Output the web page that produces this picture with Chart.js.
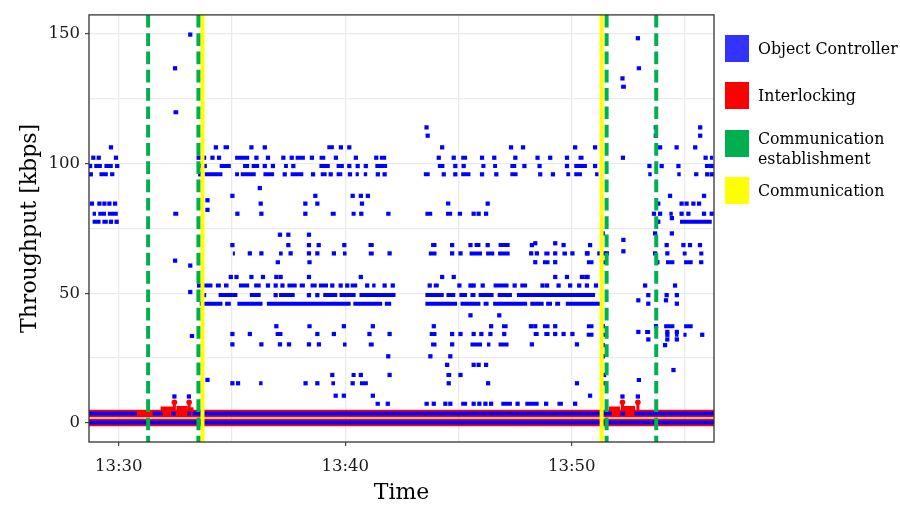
<!DOCTYPE html>
<html>
<head>
<meta charset="utf-8">
<script src="https://cdn.jsdelivr.net/npm/chart.js@4/dist/chart.umd.min.js"></script>
<style>
  html, body { margin: 0; padding: 0; background: #fff; }
  #wrap { position: relative; width: 900px; height: 506px; }
  #legend { position: absolute; left: 0; top: 0; font-family: "DejaVu Serif", serif; font-size: 15.8px; color: #000; }
  .key { position: absolute; left: 725px; width: 24px; height: 27px; }
  .lab { position: absolute; left: 758px; line-height: 20px; white-space: pre; }
</style>
</head>
<body>
<div id="wrap">
  <canvas id="c" width="900" height="506"></canvas>
  <div id="legend"></div>
</div>
<script>
// Time is given in minutes after 13:00, throughput in kbps.
const seriesNames = ['Object Controller', 'Interlocking', 'Communication\nestablishment', 'Communication'];
const seriesColors = ['#3333ff', '#ff0000', '#00b050', '#ffff00'];

const xTicks = [30, 35, 40, 45, 50, 55];
const yTicks = [0, 25, 50, 75, 100, 125, 150];
const xRange = [28.69, 56.28];
const yRange = [-7.36, 157.4];

// Phase markers
const estTimes = [31.30, 33.52, 51.54, 53.73];   // communication establishment
const commTimes = [33.70, 51.32];                // communication

// Object Controller: continuous runs at one level  [kbps, [[from, to], ...]]
const ocRunRows = [
  [0.2,   [[28.69, 56.28]]],
  [3.6,   [[28.69, 30.81], [31.50, 31.94], [32.31, 32.52], [33.04, 33.20], [33.26, 51.77], [52.14, 52.36], [52.77, 56.28]]],
  [7.4,   [[41.34, 41.53], [43.50, 43.69], [45.12, 45.38], [46.89, 47.36], [47.95, 48.54], [49.37, 49.61]]],
  [15.3,  [[36.20, 36.35], [39.39, 39.55], [40.65, 41.00]]],
  [16.6,  [[52.87, 53.06]]],
  [18.5,  [[40.28, 40.46], [44.47, 44.68]]],
  [30.3,  [[39.90, 40.06], [41.04, 41.26], [43.79, 44.03], [45.53, 46.04], [46.26, 46.41], [46.77, 47.21]]],
  [33.5,  [[33.14, 33.33]]],
  [34.0,  [[50.66, 50.96], [51.37, 51.55], [54.56, 54.71], [54.93, 55.07]]],
  [34.3,  [[36.93, 37.23], [43.73, 44.03], [48.32, 48.54], [48.79, 49.02]]],
  [35.1,  [[53.24, 53.46]]],
  [37.3,  [[38.33, 38.52], [46.92, 47.17], [48.73, 49.02], [50.67, 50.96], [54.08, 54.53], [54.96, 55.34]]],
  [46.0,  [[33.58, 34.58], [34.70, 34.95], [35.24, 36.35], [36.54, 40.24], [40.36, 41.63], [41.75, 42.03], [43.54, 44.94], [45.09, 45.97], [46.11, 46.33], [46.53, 48.03], [48.17, 48.76], [48.87, 49.13], [49.27, 49.49], [49.74, 51.26]]],
  [49.3,  [[34.41, 35.24], [35.79, 36.27], [37.08, 37.77], [39.03, 39.65], [39.75, 40.46], [40.63, 42.22], [43.54, 44.35], [44.47, 44.86], [45.04, 45.38], [45.53, 45.75], [45.89, 46.55], [46.73, 47.36], [47.58, 51.03]]],
  [53.0,  [[33.70, 34.14], [34.29, 34.51], [34.65, 34.85], [35.31, 35.76], [35.98, 36.27], [37.45, 37.86], [37.99, 38.22], [38.47, 38.74], [38.84, 39.24], [40.24, 40.53], [41.19, 41.34], [43.91, 44.13], [46.55, 47.21], [47.73, 48.03]]],
  [62.0,  [[36.93, 37.12], [38.33, 38.52], [48.73, 49.02], [50.67, 50.96], [51.33, 51.55], [54.16, 54.53], [54.96, 55.34], [55.62, 55.81]]],
  [65.4,  [[35.04, 35.13], [37.08, 37.24], [39.90, 40.06], [41.04, 41.26], [43.69, 44.03], [45.49, 46.04], [46.22, 46.58], [46.75, 47.26], [48.79, 49.02], [49.59, 49.79], [54.90, 55.07], [55.63, 55.81]]],
  [68.6,  [[41.03, 41.26], [43.79, 44.03], [45.71, 45.97], [46.77, 47.26]]],
  [77.6,  [[28.85, 29.20], [29.28, 29.52], [54.78, 56.18]]],
  [80.7,  [[28.85, 29.00], [29.10, 29.44], [29.52, 29.96], [32.41, 32.63], [39.36, 39.58], [40.28, 40.46], [41.81, 42.00], [43.54, 43.84], [44.45, 44.72], [44.97, 45.16], [54.31, 54.46]]],
  [84.6,  [[44.45, 44.64]]],
  [95.9,  [[29.15, 29.52], [29.62, 29.81], [33.80, 34.58], [35.14, 35.31], [35.39, 36.05], [36.39, 36.86], [37.59, 38.15], [38.92, 39.18], [39.62, 39.87], [40.46, 40.60], [40.82, 40.97], [43.47, 43.73], [45.12, 45.53], [47.29, 47.61], [49.76, 49.93], [50.11, 50.45], [51.03, 51.18], [53.38, 53.53], [54.66, 54.81], [55.40, 55.59]]],
  [99.1,  [[28.92, 29.26], [29.37, 29.74], [29.84, 30.03], [34.46, 34.95], [35.49, 35.76], [35.87, 36.20], [37.30, 37.47], [38.86, 39.32], [39.62, 39.94], [41.33, 41.85], [44.09, 44.38], [46.01, 46.19], [46.53, 46.70], [47.29, 47.55], [50.11, 50.67], [55.88, 56.10]]],
  [102.3, [[35.14, 35.76], [37.81, 38.22], [38.87, 39.12], [41.53, 41.81], [45.12, 45.38], [50.30, 50.52], [56.10, 56.24]]],
  [106.3, [[34.63, 34.87], [39.21, 39.50]]],
  [119.8, [[32.42, 32.63]]],
  [129.7, [[52.18, 52.39]]],
  [136.8, [[52.87, 53.06]]]
];

// Object Controller: single samples  [kbps, [time, ...]]
const ocDotRows = [
  [7.4,   [41.88, 43.91, 44.42, 44.64, 45.67, 45.92, 46.19, 46.44, 47.61, 48.87, 50.15]],
  [10.2,  [32.46, 33.10, 52.24, 52.92]],
  [10.5,  [39.58, 39.94, 41.22, 50.81]],
  [15.3,  [35.02, 35.27, 38.25, 38.77, 40.33, 44.57, 46.31, 50.23, 51.37]],
  [16.6,  [33.92]],
  [18.5,  [39.43, 40.69, 41.96, 45.09, 51.43]],
  [20.4,  [54.49]],
  [22.4,  [44.50, 45.67, 45.89, 46.22]],
  [25.7,  [41.90, 43.76, 44.64, 51.37]],
  [30.0,  [51.37, 54.12]],
  [30.3,  [35.02, 36.30, 37.12, 37.52, 38.40, 38.84, 44.72, 48.24, 50.23]],
  [32.2,  [53.38, 54.22, 54.64]],
  [34.0,  [54.22, 55.76]],
  [34.3,  [35.02, 35.79, 38.77, 39.50, 41.07, 41.96, 44.72, 45.09, 45.67, 46.01, 46.41, 47.02, 49.27, 49.64, 50.03]],
  [35.1,  [52.94, 54.22, 54.64]],
  [37.3,  [36.96, 39.94, 41.22, 43.91, 46.44, 48.20, 48.39, 49.27, 51.37, 53.72]],
  [41.5,  [45.53, 46.80]],
  [46.0,  [53.38, 54.64]],
  [47.3,  [52.94, 54.16]],
  [49.3,  [33.77, 36.93, 38.40, 38.77, 53.38, 54.19, 54.64]],
  [50.5,  [33.16]],
  [53.0,  [33.55, 36.59, 36.93, 37.23, 39.43, 39.80, 40.09, 40.97, 41.74, 42.10, 43.73, 45.04, 45.53, 45.67, 46.07, 47.48, 48.71, 48.91, 49.42, 49.93, 50.33, 50.67, 51.07, 53.24, 54.56]],
  [56.3,  [34.95, 35.20, 35.86, 36.37, 36.96, 37.15, 38.40, 40.69, 44.28, 44.79, 49.27, 49.79, 50.45, 50.64, 50.70]],
  [60.7,  [33.16]],
  [62.0,  [48.39, 49.27, 53.78]],
  [62.6,  [32.49]],
  [65.4,  [35.79, 36.30, 37.59, 38.40, 38.77, 39.50, 41.96, 44.72, 45.09, 48.21, 48.46, 49.27, 50.03, 50.67, 50.70, 51.22, 51.43, 51.55, 53.68, 54.22]],
  [66.2,  [52.28]],
  [68.6,  [35.02, 37.49, 38.40, 38.83, 39.96, 44.72, 45.53, 46.29, 48.24, 49.64, 50.81, 54.19, 54.93, 55.22, 55.66]],
  [69.3,  [48.39, 49.27]],
  [70.6,  [52.28]],
  [72.6,  [37.12, 37.49, 38.40]],
  [73.1,  [51.37, 53.68, 54.42]],
  [77.6,  [29.66, 29.91, 53.82]],
  [79.0,  [54.42]],
  [80.7,  [35.24, 36.30, 38.24, 40.71, 45.67, 45.89, 46.22, 53.63, 53.90, 54.85, 55.15, 55.84, 56.18]],
  [82.2,  [33.92]],
  [84.6,  [28.82, 29.15, 29.37, 29.59, 29.84, 36.27, 38.24, 38.77, 40.74, 46.29, 53.82, 54.85, 55.07, 55.37, 55.62]],
  [85.9,  [33.92]],
  [87.6,  [35.02, 38.68, 40.33, 40.69, 41.00, 54.34, 55.84]],
  [90.6,  [36.23]],
  [95.9,  [28.77, 33.60, 37.33, 38.58, 39.36, 40.21, 41.44, 41.74, 44.35, 44.86, 46.04, 46.67, 48.61, 49.17, 55.98, 56.18]],
  [99.1,  [28.74, 33.63, 33.80, 36.45, 36.81, 37.71, 40.18, 40.55, 40.91, 44.86, 45.23, 47.91, 48.58, 49.79, 51.03, 53.43, 53.97, 54.71, 56.18]],
  [102.3, [28.88, 29.12, 29.88, 33.53, 33.77, 34.14, 34.43, 36.08, 36.59, 37.27, 37.64, 38.53, 39.59, 40.47, 41.37, 44.13, 44.79, 46.04, 46.58, 47.51, 48.49, 49.05, 49.79, 52.26, 55.91]],
  [106.3, [29.66, 34.29, 35.86, 36.45, 39.81, 40.18, 44.28, 47.32, 47.85, 50.15, 51.03, 53.90, 54.63, 55.45]],
  [110.8, [43.64, 53.71, 55.67]],
  [114.0, [43.59, 53.71, 55.67]],
  [132.9, [52.24]],
  [136.8, [32.49]],
  [148.4, [52.92]],
  [149.8, [33.16]]
];

// Interlocking: runs at one level and short peaks  [time, from kbps, to kbps]
const ilRunRows = [
  [0.2, [[28.69, 56.28]]],
  [3.6, [[28.69, 56.28]]],
  [4.6, [[33.14, 33.30]]],
  [4.9, [[31.85, 32.40], [51.64, 52.14]]],
  [5.1, [[32.55, 33.05], [52.30, 52.80]]]
];
const ilPeaks = [[32.46, 3.6, 8.0], [33.11, 3.6, 8.0], [52.24, 3.6, 8.0], [52.92, 3.6, 8.0]];

// ---- build datasets ----
function runsPath(rows) {
  const pts = [];
  rows.forEach(([v, runs]) => runs.forEach(([a, b]) => {
    pts.push({ x: a, y: v }, { x: b, y: v }, { x: b, y: null });
  }));
  return pts;
}
function dotPoints(rows) {
  const pts = [];
  rows.forEach(([v, times]) => times.forEach(t => pts.push({ x: t, y: v })));
  return pts;
}
function verticals(times) {
  const pts = [];
  times.forEach(t => pts.push({ x: t, y: yRange[1] }, { x: t, y: yRange[0] }, { x: t, y: null }));
  return pts;
}
const peakStems = [];
ilPeaks.forEach(([t, a, b]) => peakStems.push({ x: t, y: a }, { x: t, y: b }, { x: t, y: null }));
const peakTops = ilPeaks.map(([t, a, b]) => ({ x: t, y: b }));

const FONT = 'DejaVu Serif';
Chart.defaults.font.family = FONT;

const panelFrame = {
  id: 'panelFrame',
  afterDraw(chart) {
    const { ctx, chartArea: a } = chart;
    ctx.save();
    ctx.strokeStyle = '#333333';
    ctx.lineWidth = 1.3;
    ctx.strokeRect(a.left, a.top, a.right - a.left, a.bottom - a.top);
    ctx.restore();
  }
};

const isMajorX = v => v % 10 === 0;
const isMajorY = v => v % 50 === 0;

new Chart(document.getElementById('c'), {
  type: 'line',
  data: {
    datasets: [
      { label: seriesNames[2], data: verticals(estTimes), borderColor: seriesColors[2], borderWidth: 4,
        borderDash: [12.7, 5.6], pointRadius: 0, order: 0 },
      { label: seriesNames[3], data: verticals(commTimes), borderColor: seriesColors[3], borderWidth: 4,
        pointRadius: 0, order: 0 },
      { label: seriesNames[0], data: dotPoints(ocDotRows), showLine: false, pointStyle: 'rect',
        pointRadius: 3, pointBorderWidth: 0, pointBackgroundColor: '#0000ff', order: 1 },
      { label: seriesNames[0], data: runsPath(ocRunRows), borderColor: '#0000ff', borderWidth: 4,
        pointRadius: 0, order: 2 },
      { label: seriesNames[1], data: peakStems, borderColor: '#ff0000', borderWidth: 3, pointRadius: 0, order: 3 },
      { label: seriesNames[1], data: peakTops, showLine: false, pointStyle: 'circle', pointRadius: 2.8,
        pointBorderWidth: 0, pointBackgroundColor: '#ff0000', order: 3 },
      { label: seriesNames[1], data: runsPath(ilRunRows), borderColor: '#ff0000', borderWidth: 7.5,
        pointRadius: 0, order: 4 }
    ]
  },
  options: {
    responsive: false,
    animation: false,
    events: [],
    spanGaps: false,
    layout: { padding: { top: 13, right: 186, bottom: 0, left: 0 } },
    plugins: { legend: { display: false }, tooltip: { enabled: false } },
    scales: {
      x: {
        type: 'linear', min: xRange[0], max: xRange[1],
        afterBuildTicks: s => { s.ticks = xTicks.map(v => ({ value: v })); },
        afterFit: s => { s.height = 64; },
        border: { display: false },
        grid: {
          color: '#ebebeb', lineWidth: 1.3, tickLength: 4, tickWidth: 1.1,
          tickColor: c => (c.tick && isMajorX(c.tick.value)) ? '#333333' : 'rgba(0,0,0,0)'
        },
        ticks: {
          autoSkip: false, maxRotation: 0, padding: 11, color: '#1a1a1a',
          font: { family: FONT, size: 16.5 },
          callback: v => isMajorX(v) ? '13:' + v : ''
        },
        title: { display: true, text: 'Time', color: '#000', font: { family: FONT, size: 22 },
                 padding: { top: 0, bottom: 0 } }
      },
      y: {
        type: 'linear', min: yRange[0], max: yRange[1],
        afterBuildTicks: s => { s.ticks = yTicks.map(v => ({ value: v })); },
        afterFit: s => { s.width = 89; },
        border: { display: false },
        grid: {
          color: '#ebebeb', lineWidth: 1.3, tickLength: 4, tickWidth: 1.1,
          tickColor: c => (c.tick && isMajorY(c.tick.value)) ? '#333333' : 'rgba(0,0,0,0)'
        },
        ticks: {
          autoSkip: false, padding: 5, color: '#1a1a1a',
          font: { family: FONT, size: 16.5 },
          callback: v => isMajorY(v) ? String(v) : ''
        },
        title: { display: true, text: 'Throughput [kbps]', color: '#000', font: { family: FONT, size: 22 },
                 padding: { top: 17, bottom: 0 } }
      }
    }
  },
  plugins: [panelFrame]
});

// ---- legend ----
const legend = document.getElementById('legend');
const keyTops = [35, 82, 130, 177];
const labelTops = [38.5, 85.5, 128.5, 180.5];
seriesNames.forEach((name, i) => {
  const k = document.createElement('div');
  k.className = 'key';
  k.style.top = keyTops[i] + 'px';
  k.style.background = seriesColors[i];
  legend.appendChild(k);
  const l = document.createElement('div');
  l.className = 'lab';
  l.style.top = labelTops[i] + 'px';
  l.textContent = name;
  legend.appendChild(l);
});
</script>
</body>
</html>
